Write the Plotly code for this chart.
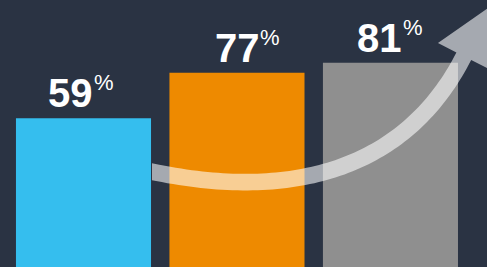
import numpy as np
import plotly.graph_objects as go

# ---- data ----
categories = ["Phase 1", "Phase 2", "Phase 3"]
values = [59, 77, 81]
value_suffix = "%"

# ---- styles ----
bar_colors = ["#35BEEE", "#EE8A00", "#8F8F8F"]
label_dx = [0, 13, 2]          # small horizontal nudges of the value labels (px)
bg = "#2A3343"
W, H = 487, 267
FONT = "Liberation Sans"

fig = go.Figure()
fig.add_trace(go.Bar(
    x=categories, y=values,
    marker=dict(color=bar_colors, line=dict(width=0)),
    hoverinfo="skip", showlegend=False,
))

# value labels: big bold number + small raised percent sign
for c, v, dx in zip(categories, values, label_dx):
    fig.add_annotation(
        x=c, y=v, xref="x", yref="y", text=f"<b>{v}</b>",
        xanchor="right", yanchor="bottom", xshift=11 + dx, yshift=2,
        showarrow=False, borderpad=0,
        font=dict(family=FONT, size=40, color="white"),
    )
    fig.add_annotation(
        x=c, y=v, xref="x", yref="y", text=value_suffix,
        xanchor="left", yanchor="bottom", xshift=9.5 + dx, yshift=22,
        showarrow=False, borderpad=0,
        font=dict(family=FONT, size=22, color="white"),
    )

# ---- decorative curved arrow (pixel geometry -> paper coords) ----
P0 = np.array([152.0, 171.7])
P1 = np.array([302.0, 203.2])
P2 = np.array([409.3, 163.1])
P3 = np.array([463.8, 56.2])
hw = 8.3      # half shaft width
hh = 29.0     # half head width
hl = 54.5     # head length

t = np.linspace(0, 1, 80)[:, None]
pts = ((1 - t) ** 3) * P0 + 3 * ((1 - t) ** 2) * t * P1 + 3 * (1 - t) * t ** 2 * P2 + t ** 3 * P3
der = 3 * ((1 - t) ** 2) * (P1 - P0) + 6 * (1 - t) * t * (P2 - P1) + 3 * t ** 2 * (P3 - P2)
tan = der / np.linalg.norm(der, axis=1)[:, None]
nrm = np.column_stack([-tan[:, 1], tan[:, 0]])
upper = pts - hw * nrm
lower = pts + hw * nrm
k = hw * np.hypot(1, tan[0, 1] / tan[0, 0])
upper[0] = [P0[0], P0[1] - k]
lower[0] = [P0[0], P0[1] + k]
u_end = tan[-1]
n_end = nrm[-1]
head = [P3 - hh * n_end, P3 + hl * u_end, P3 + hh * n_end]
poly = list(upper) + head + list(lower[::-1])


def to_paper(p):
    return f"{p[0] / W:.5f},{1 - p[1] / H:.5f}"


path = "M " + " L ".join(to_paper(p) for p in poly) + " Z"
fig.add_shape(type="path", path=path, xref="paper", yref="paper",
              fillcolor="rgba(255,255,255,0.58)", line=dict(width=0), layer="above")

fig.update_layout(
    width=W, height=H, autosize=False,
    margin=dict(l=0, r=0, t=0, b=0, pad=0),
    paper_bgcolor=bg, plot_bgcolor=bg,
    bargap=0.12,
    xaxis=dict(visible=False, range=[-0.544, 2.629], fixedrange=True),
    yaxis=dict(visible=False, range=[0, 105.87], fixedrange=True),
    showlegend=False,
)

fig.write_html(
    "out.html",
    config={"displayModeBar": False},
    post_script="document.body.style.margin='0';document.body.style.overflow='hidden';document.body.style.background='%s';" % bg,
)
